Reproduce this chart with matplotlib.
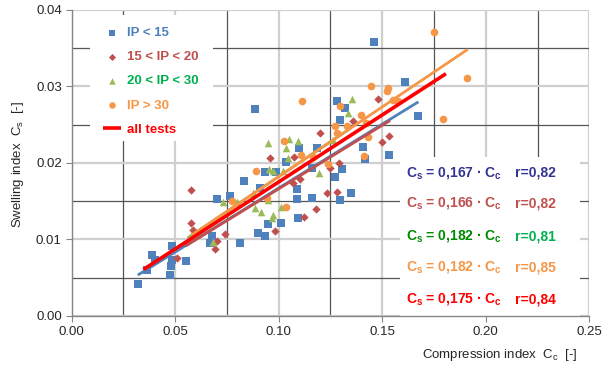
import matplotlib
matplotlib.use('Agg')
import matplotlib.pyplot as plt
import numpy as np
from matplotlib.patches import Rectangle
from matplotlib.ticker import MultipleLocator, FormatStrFormatter

plt.rcParams['font.family'] = ['Liberation Sans', 'DejaVu Sans']
plt.rcParams['mathtext.fontset'] = 'custom'
plt.rcParams['mathtext.rm'] = 'Liberation Sans'
plt.rcParams['mathtext.bf'] = 'Liberation Sans:bold'
plt.rcParams['mathtext.it'] = 'Liberation Sans:italic'

# ---------------- data ----------------
ip15_cc = [0.0323, 0.0387, 0.0363, 0.0403, 0.0487, 0.0484, 0.0480, 0.0476, 0.0551, 0.0701,
           0.0677, 0.0669, 0.0886, 0.0833, 0.0765, 0.0814, 0.0902, 0.0934, 0.0950, 0.1012,
           0.0910, 0.0934, 0.0987, 0.1034, 0.1097, 0.1087, 0.1087, 0.1095, 0.1281, 0.1321,
           0.1296, 0.1184, 0.1160, 0.1272, 0.1305, 0.1163, 0.1296, 0.1350, 0.1409, 0.1417,
           0.1462, 0.1610, 0.1675, 0.1535]
ip15_cs = [0.00414, 0.00792, 0.0060, 0.0073, 0.00918, 0.0073, 0.00657, 0.00535, 0.00718, 0.01523,
           0.01044, 0.00957, 0.0270, 0.01762, 0.01567, 0.00957, 0.01087, 0.01048, 0.01197, 0.01218,
           0.01667, 0.01876, 0.01884, 0.02014, 0.02189, 0.01658, 0.01527, 0.01283, 0.02807, 0.02711,
           0.02559, 0.02189, 0.01928, 0.01818, 0.01915, 0.01537, 0.01514, 0.01610, 0.02210, 0.02046,
           0.03581, 0.03059, 0.02615, 0.02102]

ip15_20_cc = [0.0576, 0.0576, 0.0585, 0.0511, 0.0701, 0.0693, 0.0958, 0.1074, 0.0741, 0.0983,
              0.1200, 0.1071, 0.1103, 0.1293, 0.1232, 0.1281, 0.1181, 0.1123, 0.1358, 0.1478,
              0.1535, 0.1501, 0.1248]
ip15_20_cs = [0.01645, 0.01218, 0.01123, 0.00753, 0.00983, 0.00875, 0.02059, 0.02072, 0.01067, 0.01110,
              0.02393, 0.01732, 0.01785, 0.01993, 0.01602, 0.01623, 0.01393, 0.01296, 0.02546, 0.02829,
              0.02354, 0.02268, 0.01928]

ip20_30_cc = [0.0950, 0.1034, 0.1050, 0.1095, 0.0954, 0.0971, 0.1020, 0.1044, 0.0730, 0.0798,
              0.0878, 0.0886, 0.0915, 0.0950, 0.0967, 0.0971, 0.1012, 0.0682, 0.1353, 0.1337,
              0.1197, 0.1264, 0.0577]
ip20_30_cs = [0.02255, 0.02189, 0.02307, 0.02289, 0.01915, 0.01893, 0.01893, 0.02059, 0.01492, 0.01492,
              0.01610, 0.01406, 0.01362, 0.01514, 0.01275, 0.01319, 0.01427, 0.00962, 0.02829, 0.02654,
              0.01863, 0.02298, 0.01048]

ip30_cc = [0.1112, 0.1028, 0.0889, 0.1107, 0.1237, 0.0774, 0.0943, 0.1036, 0.1296, 0.1272,
           0.1281, 0.1329, 0.1445, 0.1398, 0.1422, 0.1168, 0.1414, 0.1752, 0.1908, 0.1530,
           0.1522, 0.1554, 0.1578, 0.1433, 0.1792]
ip30_cs = [0.02807, 0.02285, 0.01897, 0.02102, 0.01980, 0.01501, 0.01544, 0.01427, 0.02742, 0.02484,
           0.02393, 0.02480, 0.03007, 0.02624, 0.02516, 0.02080, 0.02093, 0.03704, 0.03103, 0.02973,
           0.02941, 0.02820, 0.02811, 0.02333, 0.02568]

series_labels = ['IP < 15', '15 < IP < 20', '20 < IP < 30', 'IP > 30']
all_label = 'all tests'

# regression: slope, r, Cc range  (order: IP<15, 15-20, 20-30, >30, all)
fit_slopes = [0.167, 0.166, 0.182, 0.182, 0.175]
fit_r = [0.82, 0.82, 0.81, 0.85, 0.84]
fit_cc_start = [0.032, 0.055, 0.056, 0.058, 0.0347]
fit_cc_end = [0.1675, 0.1538, 0.135, 0.1913, 0.1808]

x_ticks = [0.00, 0.05, 0.10, 0.15, 0.20, 0.25]
y_ticks = [0.00, 0.01, 0.02, 0.03, 0.04]

# ---------------- styles ----------------
c_blue = '#4F81BD'
c_brown = '#C0504D'
c_green = '#9BBB59'
c_orange = '#F79646'
c_red = '#FF0000'

fig = plt.figure(figsize=(6.08, 3.70), dpi=100)
ax = fig.add_axes([71.5/608, 1-316/370, 517.8/608, 306.3/370])
ax.set_xlim(0, 0.25)
ax.set_ylim(0, 0.04)
ax.set_xticks(x_ticks)
ax.set_yticks(y_ticks)
ax.xaxis.set_major_formatter(FormatStrFormatter('%.2f'))
ax.yaxis.set_major_formatter(FormatStrFormatter('%.2f'))
ax.xaxis.set_minor_locator(MultipleLocator(0.025))
ax.yaxis.set_minor_locator(MultipleLocator(0.005))
ax.set_axisbelow(True)
ax.grid(which='major', color='#CFCFCF', lw=1.6)
ax.grid(which='minor', color='#555555', lw=0.9)
ax.tick_params(which='minor', length=0)
ax.tick_params(which='major', length=4, color='#868686', labelsize=9.5, labelcolor='#262626', pad=3)
for s in ['top', 'right']:
    ax.spines[s].set_visible(False)
for s in ['left', 'bottom']:
    ax.spines[s].set_color('#868686')
    ax.spines[s].set_linewidth(1)

# white boxes (legend area and equation area)
ax.add_patch(Rectangle((0.0089, 0.02285), 0.0596, 0.0164, facecolor='white', edgecolor='none', zorder=1.5))
ax.add_patch(Rectangle((0.1586, 0.0), 0.0868, 0.0208, facecolor='white', edgecolor='none', zorder=1.5))

# scatter
h1 = ax.scatter(ip15_cc, ip15_cs, marker='s', s=26, color=c_blue, linewidths=0, zorder=3, label=series_labels[0])
h2 = ax.scatter(ip15_20_cc, ip15_20_cs, marker='D', s=18, color=c_brown, linewidths=0, zorder=3, label=series_labels[1])
h3 = ax.scatter(ip20_30_cc, ip20_30_cs, marker='^', s=30, color=c_green, linewidths=0, zorder=3, label=series_labels[2])
h4 = ax.scatter(ip30_cc, ip30_cs, marker='o', s=30, color=c_orange, linewidths=0, zorder=3, label=series_labels[3])

# fit lines
line_colors = [c_blue, c_brown, c_green, c_orange, c_red]
line_widths = [2.0, 2.0, 2.0, 2.0, 2.6]
h5 = None
for i in range(5):
    xs = np.array([fit_cc_start[i], fit_cc_end[i]])
    ln, = ax.plot(xs, fit_slopes[i] * xs, color=line_colors[i], lw=line_widths[i], zorder=4 + i,
                  solid_capstyle='butt')
    if i == 4:
        h5 = ln
        ln.set_label(all_label)

leg = ax.legend([h1, h2, h3, h4, h5], series_labels + [all_label], loc='upper left',
                bbox_to_anchor=((103 - 71.5) / 517.8, (316 - 27) / 306.3), frameon=False,
                prop={'weight': 'bold', 'size': 9.5}, handlelength=1.35, handletextpad=0.5,
                labelspacing=0.9, borderpad=0, borderaxespad=0, scatterpoints=1, markerscale=0.85)
leg_colors = [c_blue, c_brown, '#00B050', c_orange, c_red]
for t, c in zip(leg.get_texts(), leg_colors):
    t.set_color(c)
leg.set_zorder(6)

# equations
eq_colors = ['#343494', c_brown, '#008A00', c_orange, c_red]
r_colors = ['#343494', c_brown, '#00B050', c_orange, c_red]
row_y = [172.7, 203.3, 236, 267, 299]
for i in range(5):
    yy = (316 - row_y[i]) / 306.3
    sl = f"{fit_slopes[i]:.3f}".replace('.', ',')
    ax.text((406 - 71.5) / 517.8, yy, r"C$_\mathbf{s}$ = " + sl + r" · C$_\mathbf{c}$",
            transform=ax.transAxes, ha='left', va='center', fontsize=10, fontweight='bold',
            color=eq_colors[i], zorder=7)
    rr = f"r={fit_r[i]:.2f}".replace('.', ',')
    ax.text((515 - 71.5) / 517.8, yy, rr, transform=ax.transAxes, ha='left', va='center',
            fontsize=10, fontweight='bold', color=r_colors[i], zorder=7)

fig.text(18 / 608, 1 - 165 / 370, r"Swelling index  C$_\mathrm{s}$  [-]", rotation=90,
         ha='center', va='center', fontsize=9.5, color='#262626')
fig.text(500 / 608, 1 - 355 / 370, r"Compression index  C$_\mathrm{c}$  [-]",
         ha='center', va='center', fontsize=9.5, color='#262626')

fig.savefig('out.png', dpi=100)
